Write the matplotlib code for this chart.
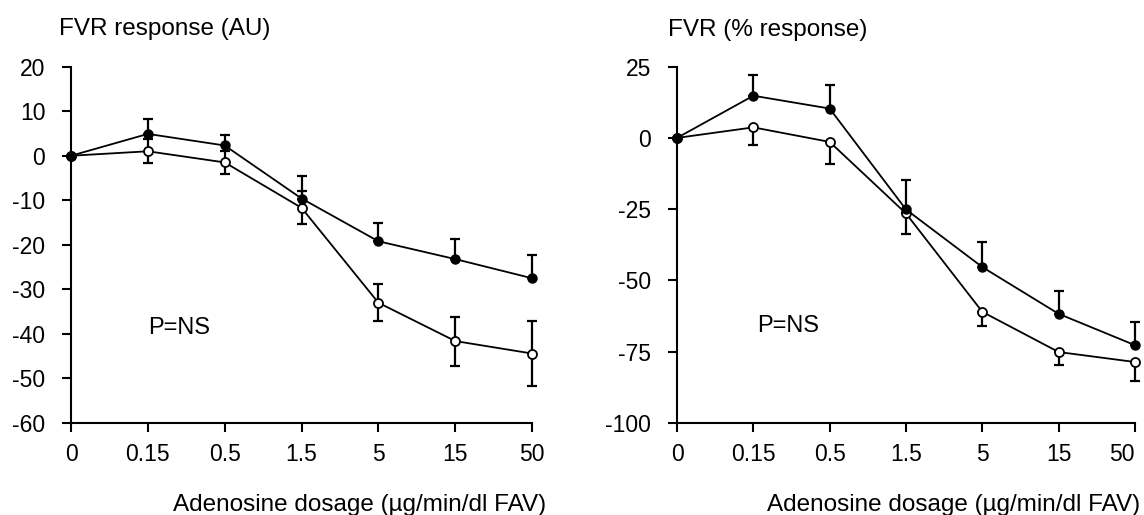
import matplotlib
matplotlib.use("Agg")
import matplotlib.pyplot as plt

# doses shown as evenly spaced categories
DOSES = ["0", "0.15", "0.5", "1.5", "5", "15", "50"]

# left panel: FVR response (AU)
AU_FILLED = [0, 4.9, 2.3, -9.6, -19.2, -23.2, -27.5]
AU_FILLED_ERR = [0, 3.4, 2.4, 5.1, 4.2, 4.5, 5.3]
AU_OPEN = [0, 1.0, -1.5, -11.7, -33.0, -41.6, -44.4]
AU_OPEN_ERR = [0, 2.7, 2.5, 3.7, 4.2, 5.5, 7.3]

# right panel: FVR (% response)
PCT_FILLED = [0, 14.8, 10.3, -25.1, -45.3, -61.7, -72.7]
PCT_FILLED_ERR = [0, 7.4, 8.2, 10.3, 8.7, 8.1, 8.3]
PCT_OPEN = [0, 3.7, -1.4, -26.5, -61.0, -75.1, -78.6]
PCT_OPEN_ERR = [0, 6.2, 7.6, 7.3, 5.1, 4.7, 6.6]

plt.rcParams["font.family"] = ["Liberation Sans", "DejaVu Sans"]


def draw_panel(ax, filled, filled_err, opn, opn_err, open_both, ylim, yticks,
               ylabel, ylabel_pos, xlabel_x, p_pos, last_right=False):
    x = list(range(len(DOSES)))
    zeros = [0] * len(x)
    # error bars: filled upward only, open either symmetric or downward only
    ax.errorbar(x, filled, yerr=[zeros, filled_err], fmt="none", ecolor="black",
                elinewidth=1.6, capsize=3.8, capthick=1.6, clip_on=False, zorder=2)
    upper = opn_err if open_both else zeros
    ax.errorbar(x, opn, yerr=[opn_err, upper], fmt="none", ecolor="black",
                elinewidth=1.6, capsize=3.8, capthick=1.6, clip_on=False, zorder=2)
    ax.plot(x, opn, color="black", lw=1.3, marker="o", ms=6.5, mfc="white",
            mec="black", mew=1.3, clip_on=False, zorder=3)
    ax.plot(x, filled, color="black", lw=1.3, marker="o", ms=6.5, mfc="black",
            mec="black", clip_on=False, zorder=4)

    ax.set_xlim(0, len(DOSES) - 1)
    ax.set_ylim(*ylim)
    ax.set_xticks(x)
    ax.set_xticklabels(DOSES)
    ax.set_yticks(yticks)
    ax.set_yticklabels([str(v) for v in yticks])
    for s in ("top", "right"):
        ax.spines[s].set_visible(False)
    for s in ("left", "bottom"):
        ax.spines[s].set_linewidth(1.5)
    ax.tick_params(axis="both", direction="out", length=6.5, width=1.5, labelsize=16.5)
    ax.tick_params(axis="x", pad=8)
    ax.tick_params(axis="y", pad=12)
    if last_right:
        # last label sits flush with the figure edge
        ax.get_xticklabels()[-1].set_ha("right")

    ax.text(p_pos[0], p_pos[1], "P=NS", fontsize=17, ha="left", va="center")
    ax.set_xlabel("Adenosine dosage (\u00b5g/min/dl FAV)", fontsize=17.5)
    ax.xaxis.set_label_coords(xlabel_x, -0.23)
    ax.xaxis.label.set_ha("right")
    ax.xaxis.label.set_va("center")
    ax.text(ylabel_pos[0], ylabel_pos[1], ylabel, transform=ax.transAxes,
            fontsize=17.5, ha="left", va="center")


fig = plt.figure(figsize=(11.44, 5.15), dpi=100)
ax1 = fig.add_axes([0.0621, 0.1786, 0.403, 0.692])
ax2 = fig.add_axes([0.5918, 0.1786, 0.4003, 0.692])

draw_panel(ax1, AU_FILLED, AU_FILLED_ERR, AU_OPEN, AU_OPEN_ERR, True,
           (-60, 20), list(range(20, -61, -10)), "FVR response (AU)",
           (-0.026, 1.105), 1.03, (1.0, -38.6))
draw_panel(ax2, PCT_FILLED, PCT_FILLED_ERR, PCT_OPEN, PCT_OPEN_ERR, False,
           (-100, 25), [25, 0, -25, -50, -75, -100], "FVR (% response)",
           (-0.02, 1.102), 1.011, (1.05, -66), last_right=True)

fig.savefig("out.png", dpi=100)
